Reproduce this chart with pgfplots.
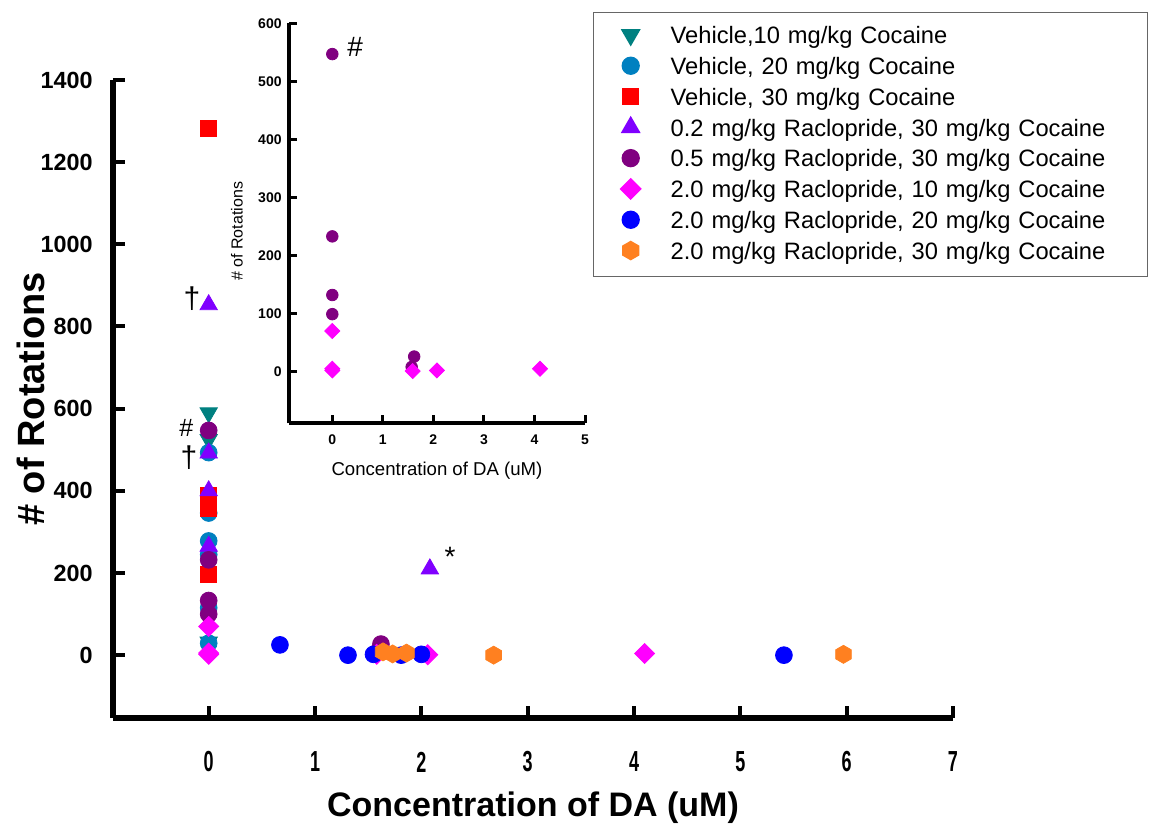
\documentclass[border=0pt]{standalone}
\usepackage{fontspec}
\setmainfont{Liberation Sans}
\usepackage{pgfplots}
\pgfplotsset{compat=1.18}
\usetikzlibrary{plotmarks}

\pgfdeclareplotmark{hexagon*}{%
  \pgfpathmoveto{\pgfqpointpolar{90}{\pgfplotmarksize}}%
  \pgfpathlineto{\pgfqpointpolar{150}{\pgfplotmarksize}}%
  \pgfpathlineto{\pgfqpointpolar{210}{\pgfplotmarksize}}%
  \pgfpathlineto{\pgfqpointpolar{270}{\pgfplotmarksize}}%
  \pgfpathlineto{\pgfqpointpolar{330}{\pgfplotmarksize}}%
  \pgfpathlineto{\pgfqpointpolar{30}{\pgfplotmarksize}}%
  \pgfpathclose
  \pgfusepathqfillstroke}

\definecolor{cteal}{RGB}{0,128,128}
\definecolor{clblue}{RGB}{0,128,192}
\definecolor{cred}{RGB}{255,0,0}
\definecolor{cviolet}{RGB}{128,0,255}
\definecolor{cpurple}{RGB}{128,0,128}
\definecolor{cmag}{RGB}{255,0,255}
\definecolor{cblue}{RGB}{0,0,255}
\definecolor{corange}{RGB}{255,128,32}

\begin{document}
\begin{tikzpicture}
\begin{axis}[
  name=main, at={(0pt,0pt)}, anchor=south west,
  scale only axis, width=420pt, height=319pt,
  xmin=-0.9, xmax=7, ymin=-153, ymax=1400,
  axis x line=bottom, axis y line=left,
  axis line style={-, line width=3pt, black},
  tick align=inside, major tick length=6pt,
  tick style={black, line width=2pt},
  xtick={0,1,...,7}, ytick={0,200,...,1400},
  /pgf/number format/assume math mode=true,
  /pgf/number format/1000 sep={},
  xticklabel style={font=\bfseries\fontsize{14.5}{16}\selectfont, anchor=center, inner sep=0pt, xscale=0.62, yshift=-22pt},
  yticklabel style={font=\bfseries\fontsize{11.7}{14}\selectfont, anchor=east, inner sep=0pt, xshift=-10pt},
  xlabel={Concentration of DA (uM)},
  xlabel style={font=\bfseries\fontsize{17}{20}\selectfont, at={(axis description cs:0.5,-0.141)}, anchor=center},
  ylabel={\# of Rotations},
  ylabel style={font=\bfseries\fontsize{19}{22}\selectfont, at={(axis description cs:-0.098,0.5)}, anchor=center},
  clip=false,
  legend cell align=left,
  legend image post style={yshift=1pt},
  legend style={at={(axis description cs:0.5714,1.1066)}, anchor=north west,
    draw=black!60, line width=0.75pt,
    font=\fontsize{11.85}{14}\selectfont,
    inner xsep=13.5pt, inner ysep=5pt, row sep=1.2pt,
    nodes={inner sep=1pt, text height=9.5pt, text depth=2.7pt},
    /tikz/every odd column/.append style={column sep=14pt},
    /tikz/every even column/.append style={nodes={text width=224pt}}},
]
\addplot[only marks, color=cteal, mark=triangle*, mark size=5pt, mark options={rotate=180}]
  coordinates {(0,590) (0,525) (0,32)};
\addlegendentry{Vehicle,10 mg/kg Cocaine}
\addplot[only marks, color=clblue, mark=*, mark size=4.2pt]
  coordinates {(0,493) (0,346) (0,278) (0,245) (0,115) (0,29)};
\addlegendentry{Vehicle, 20 mg/kg Cocaine}
\addplot[only marks, color=cred, mark=square*, mark size=4pt]
  coordinates {(0,1282) (0,388) (0,358) (0,197)};
\addlegendentry{Vehicle, 30 mg/kg Cocaine}
\addplot[only marks, color=cviolet, mark=triangle*, mark size=5pt]
  coordinates {(0,853) (0,492) (0,400) (0,265) (2.08,210)};
\addlegendentry{0.2 mg/kg Raclopride, 30 mg/kg Cocaine}
\addplot[only marks, color=cpurple, mark=*, mark size=4.2pt]
  coordinates {(0,547) (0,232) (0,133) (0,100) (1.62,27) (1.58,6)};
\addlegendentry{0.5 mg/kg Raclopride, 30 mg/kg Cocaine}
\addplot[only marks, color=cmag, mark=diamond*, mark size=5pt, mark options={xscale=1.333}]
  coordinates {(0,70) (0,5) (0,2) (1.58,2) (2.06,1) (4.1,4)};
\addlegendentry{2.0 mg/kg Raclopride, 10 mg/kg Cocaine}
\addplot[only marks, color=cblue, mark=*, mark size=4.2pt]
  coordinates {(0.67,25) (1.31,0) (1.55,2) (1.81,0) (2.0,2) (5.41,0)};
\addlegendentry{2.0 mg/kg Raclopride, 20 mg/kg Cocaine}
\addplot[only marks, color=corange, mark=hexagon*, mark size=4.5pt]
  coordinates {(1.64,8) (1.73,3) (1.86,5) (2.68,0) (5.97,2)};
\addlegendentry{2.0 mg/kg Raclopride, 30 mg/kg Cocaine}
\node[font=\fontsize{15}{18}\selectfont, anchor=center] at (axis cs:-0.157,869) {†};
\node[font=\fontsize{12.5}{15}\selectfont, anchor=center] at (axis cs:-0.21,553) {\#};
\node[font=\fontsize{15}{18}\selectfont, anchor=center] at (axis cs:-0.185,480) {†};
\node[font=\fontsize{14}{16}\selectfont, anchor=center] at (axis cs:2.27,240) {*};
\end{axis}

\begin{axis}[
  at={(88pt,147.35pt)}, anchor=south west,
  scale only axis, width=148pt, height=200pt,
  xmin=-0.857, xmax=5, ymin=-89, ymax=600,
  axis x line=bottom, axis y line=left,
  axis line style={-, line width=2pt, black},
  tick align=inside, major tick length=4pt,
  tick style={black, line width=1.5pt},
  xtick={0,1,...,5}, ytick={0,100,...,600},
  /pgf/number format/assume math mode=true,
  /pgf/number format/1000 sep={},
  xticklabel style={font=\bfseries\fontsize{7}{8}\selectfont, anchor=center, inner sep=0pt, yshift=-8pt},
  yticklabel style={font=\bfseries\fontsize{7}{8}\selectfont, anchor=east, inner sep=0pt, xshift=-3.5pt},
  xlabel={Concentration of DA (uM)},
  xlabel style={font=\fontsize{9.3}{11}\selectfont, at={(axis description cs:0.5,-0.1185)}, anchor=center},
  ylabel={\# of Rotations},
  ylabel style={font=\fontsize{8}{10}\selectfont, at={(axis description cs:-0.176,0.48)}, anchor=center},
  clip=false,
]
\addplot[only marks, color=cpurple, mark=*, mark size=2.9pt]
  coordinates {(0,547) (0,233) (0,132) (0,99) (1.62,26) (1.57,8)};
\addplot[only marks, color=cmag, mark=diamond*, mark size=3.75pt, mark options={xscale=1.333}]
  coordinates {(0,70) (0,5) (0,2) (1.59,1) (2.07,2) (4.11,5)};
\node[font=\fontsize{14}{16}\selectfont, anchor=center] at (axis cs:0.45,559) {\#};
\end{axis}
\path (-56.5pt,-55.5pt) rectangle (518pt,359pt);
\end{tikzpicture}
\end{document}
